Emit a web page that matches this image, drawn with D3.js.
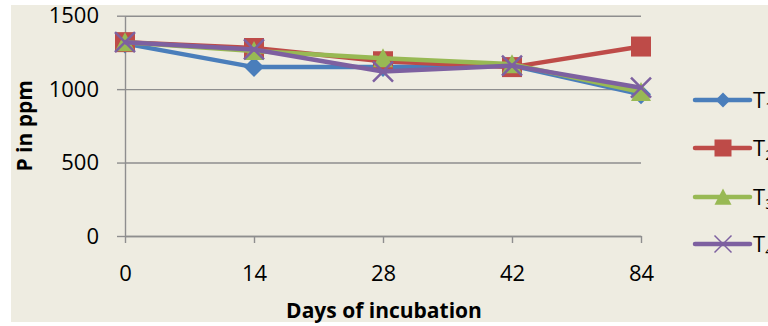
<!DOCTYPE html>
<html>
<head>
<meta charset="utf-8">
<script src="https://cdn.jsdelivr.net/npm/d3@7"></script>
<style>
    body { margin: 0; background: #ffffff; }
    #chart-area { width: 768px; height: 326px; }
    text { font-family: "Open Sans", "Liberation Sans", sans-serif; fill: #000; }
</style>
</head>
<body>
<div id="chart-area"></div>
<script>

// chart data
let days = ["0", "14", "28", "42", "84"];
let yTicks = [0, 500, 1000, 1500];
let seriesNames = ["1", "2", "3", "4"];
let t1Values = [1310, 1150, 1150, 1160, 965];
let t2Values = [1320, 1280, 1190, 1150, 1290];
let t3Values = [1320, 1260, 1210, 1170, 980];
let t4Values = [1320, 1270, 1120, 1160, 1010];


class IncubationChart {

    constructor(parentElement) {
        this.parentElement = parentElement;
        this.initVis();
    }

    initVis() {
        let vis = this;

        vis.margin = {top: 15.7, right: 127, bottom: 90, left: 125};
        vis.width = 768 - vis.margin.left - vis.margin.right;
        vis.height = 326 - vis.margin.top - vis.margin.bottom;

        vis.colors = ["#4a7ebb", "#be4b48", "#98b954", "#7d60a0"];
        vis.shapes = ["diamond", "square", "triangle", "cross"];

        vis.svgRoot = d3.select("#" + vis.parentElement).append("svg")
            .attr("width", 768)
            .attr("height", 326);

        // beige chart background
        vis.svgRoot.append("rect")
            .attr("x", 11)
            .attr("y", 5)
            .attr("width", 757)
            .attr("height", 317)
            .attr("fill", "#eeece1");

        vis.svg = vis.svgRoot.append("g")
            .attr("transform", "translate(" + vis.margin.left + "," + vis.margin.top + ")");

        // Scales and axes
        vis.x = d3.scalePoint()
            .domain(days)
            .range([0, vis.width]);

        vis.y = d3.scaleLinear()
            .domain([0, 1500])
            .range([vis.height, 0]);

        vis.yGrid = d3.axisRight(vis.y)
            .tickValues(yTicks)
            .tickSize(vis.width)
            .tickFormat("");

        vis.yAxis = d3.axisLeft(vis.y)
            .tickValues(yTicks)
            .tickFormat(d3.format("d"))
            .tickSizeInner(8)
            .tickSizeOuter(0)
            .tickPadding(18);

        vis.xAxis = d3.axisBottom(vis.x)
            .tickSizeInner(7)
            .tickSizeOuter(0)
            .tickPadding(22);

        vis.svg.append("g")
            .attr("class", "grid")
            .call(vis.yGrid)
            .call(g => g.select(".domain").remove());

        vis.svg.append("g")
            .attr("class", "y-axis axis")
            .call(vis.yAxis);

        vis.svg.append("g")
            .attr("class", "x-axis axis")
            .attr("transform", "translate(0," + vis.height + ")")
            .call(vis.xAxis);

        vis.svg.selectAll(".grid line, .axis line, .axis path")
            .attr("stroke", "#8e8e8e")
            .attr("stroke-width", 1.4);

        vis.svg.selectAll(".axis text")
            .style("font-size", "22px")
            .attr("fill", "#000");

        // axis titles
        vis.svg.append("text")
            .attr("transform", "translate(" + (32 - vis.margin.left) + "," + (vis.height / 2) + ") rotate(-90)")
            .attr("text-anchor", "middle")
            .style("font-size", "21px")
            .style("font-weight", "bold")
            .text("P in ppm");

        vis.svg.append("text")
            .attr("x", vis.width / 2 + 1)
            .attr("y", 318 - vis.margin.top)
            .attr("text-anchor", "middle")
            .style("font-size", "21px")
            .style("font-weight", "bold")
            .text("Days of incubation");

        vis.line = d3.line()
            .x((d, i) => vis.x(days[i]))
            .y(d => vis.y(d));

        vis.updateVis();
    }

    // path for a marker of a given shape, centred on 0,0
    markerPath(shape, s) {
        let h = s / 2;
        if (shape === "diamond") return "M0," + (-h) + "L" + h + ",0L0," + h + "L" + (-h) + ",0Z";
        if (shape === "square") return "M" + (-h) + "," + (-h) + "h" + s + "v" + s + "h" + (-s) + "Z";
        if (shape === "triangle") return "M0," + (-h) + "L" + h + "," + (h * 0.9) + "L" + (-h) + "," + (h * 0.9) + "Z";
        return "M" + (-h) + "," + (-h) + "L" + h + "," + h + "M" + h + "," + (-h) + "L" + (-h) + "," + h;
    }

    drawMarker(g, shape, color, size, width) {
        let vis = this;
        let p = g.append("path").attr("d", vis.markerPath(shape, size));
        if (shape === "cross") {
            p.attr("fill", "none").attr("stroke", color).attr("stroke-width", width);
        } else {
            p.attr("fill", color);
        }
    }

    updateVis() {
        let vis = this;

        let allSeries = [t1Values, t2Values, t3Values, t4Values];

        allSeries.forEach((values, k) => {
            let g = vis.svg.append("g").attr("class", "series");

            g.append("path")
                .datum(values)
                .attr("fill", "none")
                .attr("stroke", vis.colors[k])
                .attr("stroke-width", 4.5)
                .attr("stroke-linejoin", "round")
                .attr("d", vis.line);

            values.forEach((v, i) => {
                let m = g.append("g")
                    .attr("transform", "translate(" + vis.x(days[i]) + "," + vis.y(v) + ")");
                vis.drawMarker(m, vis.shapes[k], vis.colors[k], 20, 2.5);
            });
        });

        // legend, partly cut off by the right edge as in the original
        let legend = vis.svgRoot.append("g").attr("class", "legend");
        let rowsY = [100, 148, 197, 244];

        seriesNames.forEach((name, k) => {
            let row = legend.append("g")
                .attr("transform", "translate(0," + rowsY[k] + ")");

            row.append("line")
                .attr("x1", 695)
                .attr("x2", 750)
                .attr("stroke", vis.colors[k])
                .attr("stroke-width", 4.5)
                .attr("stroke-linecap", "round");

            let m = row.append("g").attr("transform", "translate(723,0)");
            vis.drawMarker(m, vis.shapes[k], vis.colors[k], k === 0 ? 15 : 17, 1.5);

            let t = row.append("text")
                .attr("x", 753)
                .attr("y", 7.5)
                .style("font-size", "22px")
                .text("T");
            t.append("tspan")
                .attr("dy", 4)
                .style("font-size", "15px")
                .text(name);
        });
    }
}

let chart = new IncubationChart("chart-area");

</script>
</body>
</html>
